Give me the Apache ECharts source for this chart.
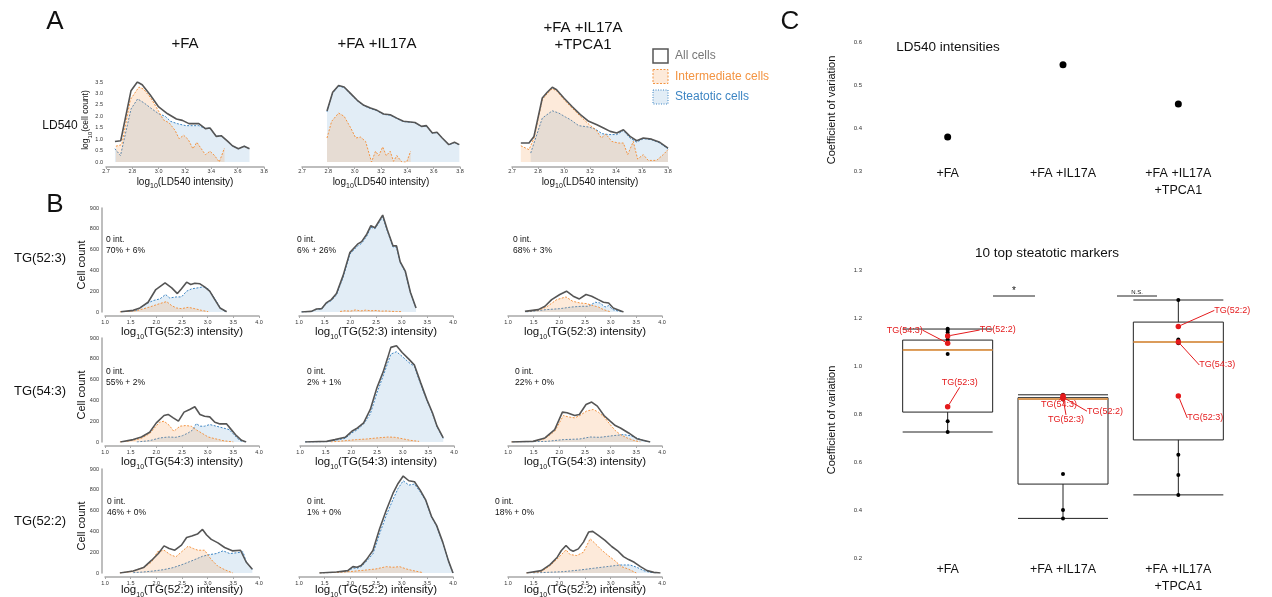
<!DOCTYPE html>
<html>
<head>
<meta charset="utf-8">
<script src="https://cdn.jsdelivr.net/npm/echarts@6/dist/echarts.min.js"></script>
<style>
  html, body { margin: 0; padding: 0; background: #fff; }
  #chart { width: 1272px; height: 597px; }
</style>
</head>
<body>
<div id="chart"></div>
<script>
const FONT = '"Liberation Sans", Arial, sans-serif'
const C_ALL = '#555555'
const C_INT = '#f39442'
const C_STE = '#3d85c3'
const F_INT = 'rgba(245,150,70,0.2)'
const F_STE = 'rgba(110,165,210,0.2)'
const C_RED = '#e41a1c'

// ---- panel A : log10(cell count) vs log10(LD540 intensity)
const A_FA_all = [[2.668,0.90],[2.712,0.93],[2.79,3.12],[2.838,3.50],[2.875,3.38],[2.935,2.94],[3.0,2.41],[3.068,2.11],[3.135,1.88],[3.18,1.82],[3.23,1.68],[3.305,1.68],[3.355,1.46],[3.39,1.49],[3.438,1.12],[3.475,1.15],[3.525,0.90],[3.56,0.71],[3.605,0.58],[3.65,0.69],[3.69,0.58]]
const A_FA_int = [[2.675,0.69],[2.72,0.76],[2.785,2.73],[2.85,3.28],[2.885,3.19],[2.94,2.80],[3.0,2.22],[3.035,1.85],[3.08,1.71],[3.125,1.38],[3.155,1.02],[3.19,1.17],[3.225,0.98],[3.26,0.58],[3.29,0.86],[3.32,0.61],[3.355,0.32],[3.39,0.47],[3.425,0.28],[3.46,0.0],[3.5,0.61]]
const A_FA_ste = [[2.668,0.58],[2.71,0.28],[2.79,2.32],[2.84,2.76],[2.89,2.58],[2.94,2.36],[3.0,2.11],[3.05,2.00],[3.09,1.78],[3.14,1.68],[3.205,1.59],[3.305,1.59],[3.355,1.46],[3.39,1.49],[3.438,1.12],[3.475,1.15],[3.525,0.90],[3.56,0.71],[3.605,0.58],[3.65,0.69],[3.69,0.58]]

const A_IL_all = [[2.79,2.23],[2.833,3.05],[2.878,3.35],[2.92,3.28],[2.97,2.99],[3.02,2.70],[3.07,2.48],[3.12,2.36],[3.17,2.26],[3.22,2.10],[3.27,2.07],[3.32,1.92],[3.37,1.78],[3.458,1.73],[3.508,1.56],[3.545,1.59],[3.59,1.27],[3.625,1.30],[3.665,1.05],[3.715,0.76],[3.758,0.86],[3.795,0.76]]
const A_IL_int = [[2.79,1.05],[2.825,1.78],[2.878,2.14],[2.92,2.0],[2.97,1.49],[3.008,1.05],[3.045,1.09],[3.083,0.90],[3.128,0.0],[3.158,0.47],[3.183,0.28],[3.213,0.66],[3.24,0.28],[3.27,0.47],[3.295,0.03],[3.32,0.28],[3.358,0.0],[3.395,0.0],[3.425,0.47]]
const A_IL_ste = [[2.79,2.20],[2.833,3.02],[2.878,3.32],[2.92,3.26],[2.97,2.97],[3.02,2.68],[3.07,2.46],[3.12,2.34],[3.17,2.24],[3.22,2.08],[3.27,2.05],[3.32,1.90],[3.37,1.77],[3.458,1.72],[3.508,1.55],[3.545,1.58],[3.59,1.26],[3.625,1.29],[3.665,1.04],[3.715,0.75],[3.758,0.85],[3.795,0.75]]

const A_TP_all = [[2.668,0.83],[2.731,0.83],[2.769,1.12],[2.833,2.80],[2.871,3.05],[2.91,3.27],[2.943,3.16],[2.999,2.80],[3.062,2.43],[3.126,2.07],[3.19,1.78],[3.253,1.63],[3.304,1.49],[3.355,1.34],[3.406,1.27],[3.457,1.41],[3.508,1.12],[3.559,0.93],[3.61,1.05],[3.673,1.0],[3.737,0.86],[3.8,0.61]]
const A_TP_int = [[2.668,0.71],[2.731,0.54],[2.769,1.05],[2.833,2.73],[2.871,2.99],[2.91,3.21],[2.948,3.09],[2.999,2.73],[3.062,2.36],[3.126,2.0],[3.195,1.63],[3.246,1.41],[3.287,1.05],[3.322,1.22],[3.368,0.90],[3.419,0.83],[3.457,0.83],[3.49,0.32],[3.533,0.90],[3.566,0.13],[3.61,0.32],[3.648,0.07],[3.712,0.07],[3.763,0.32],[3.8,0.54]]
const A_TP_ste = [[2.744,0.39],[2.782,1.05],[2.833,1.92],[2.91,2.24],[2.96,2.14],[3.011,1.97],[3.05,1.85],[3.113,1.59],[3.19,1.53],[3.241,1.44],[3.292,1.24],[3.343,1.20],[3.406,1.20],[3.457,1.38],[3.508,1.05],[3.559,0.87],[3.61,1.02],[3.673,0.98],[3.737,0.83],[3.8,0.57]]

// ---- panel B : cell count vs log10(TG intensity), rows TG(52:3), TG(54:3), TG(52:2)
const B523_FA_all = [[1.305,3],[1.55,16],[1.68,39],[1.84,94],[1.99,216],[2.17,281],[2.30,232],[2.41,177],[2.49,223],[2.59,287],[2.67,265],[2.75,277],[2.85,271],[2.94,242],[3.04,200],[3.14,119],[3.24,39],[3.37,3]]
const B523_FA_int = [[1.29,0],[1.62,13],[1.87,48],[2.07,81],[2.2,100],[2.30,61],[2.39,39],[2.49,32],[2.62,45],[2.75,32],[2.88,16],[3.01,3]]
const B523_FA_ste = [[1.32,0],[1.62,16],[1.81,81],[1.94,110],[2.07,126],[2.18,168],[2.26,135],[2.39,145],[2.49,145],[2.59,200],[2.69,223],[2.81,232],[2.91,242],[3.01,223],[3.11,152],[3.24,45],[3.33,6]]

const B523_IL_all = [[1.05,0],[1.24,6],[1.34,29],[1.44,32],[1.53,87],[1.63,119],[1.73,177],[1.86,352],[1.99,571],[2.14,652],[2.22,677],[2.32,748],[2.40,830],[2.48,810],[2.63,932],[2.72,790],[2.83,636],[2.9,636],[2.97,484],[3.07,394],[3.17,190],[3.28,39]]
const B523_IL_int = [[1.8,5],[1.9,12],[2.0,8],[2.1,20],[2.2,10],[2.3,18],[2.4,12],[2.5,15],[2.6,8],[2.7,10],[2.8,6],[2.9,5],[3.0,3]]
const B523_IL_ste = [[1.05,0],[1.24,5],[1.34,25],[1.44,28],[1.53,80],[1.63,110],[1.73,165],[1.86,335],[1.99,555],[2.14,635],[2.22,660],[2.32,730],[2.40,815],[2.48,800],[2.63,915],[2.72,780],[2.83,625],[2.9,625],[2.97,475],[3.07,385],[3.17,185],[3.28,35]]

const B523_TP_all = [[1.33,6],[1.59,23],[1.72,55],[1.85,119],[2.01,168],[2.14,200],[2.27,152],[2.39,126],[2.52,168],[2.63,152],[2.76,119],[2.86,94],[2.96,87],[3.05,39],[3.25,0]]
const B523_TP_int = [[1.36,6],[1.62,23],[1.75,48],[1.95,119],[2.13,145],[2.26,103],[2.4,87],[2.53,81],[2.66,61],[2.76,48],[2.86,23],[2.99,3]]
const B523_TP_ste = [[1.36,0],[1.75,23],[2.01,32],[2.24,48],[2.43,55],[2.57,55],[2.70,94],[2.79,87],[2.89,48],[2.96,61],[3.04,23],[3.22,0]]

const B543_FA_all = [[1.3,0],[1.55,23],[1.71,48],[1.87,94],[2.0,184],[2.15,255],[2.23,265],[2.33,232],[2.43,200],[2.54,287],[2.65,313],[2.75,339],[2.85,265],[2.94,248],[3.04,242],[3.14,190],[3.24,174],[3.37,174],[3.46,119],[3.56,61],[3.66,16],[3.75,0]]
const B543_FA_int = [[1.29,0],[1.55,16],[1.71,35],[1.87,81],[2.06,190],[2.15,200],[2.25,161],[2.34,103],[2.46,152],[2.57,158],[2.68,152],[2.77,119],[2.88,87],[3.01,48],[3.14,32],[3.3,13],[3.5,0]]
const B543_FA_ste = [[1.62,0],[1.87,13],[2.07,39],[2.23,48],[2.38,45],[2.51,61],[2.62,87],[2.7,113],[2.78,177],[2.85,152],[2.94,152],[3.04,168],[3.17,152],[3.3,135],[3.42,119],[3.53,61],[3.62,16],[3.72,0]]

const B543_IL_all = [[1.1,0],[1.52,6],[1.68,23],[1.88,45],[2.01,103],[2.12,135],[2.24,184],[2.37,313],[2.5,523],[2.62,674],[2.7,797],[2.77,910],[2.88,926],[2.99,861],[3.12,797],[3.23,739],[3.35,571],[3.47,410],[3.58,281],[3.67,152],[3.79,39]]
const B543_IL_int = [[1.6,0],[1.88,13],[2.1,23],[2.3,29],[2.5,39],[2.72,48],[2.85,45],[2.99,32],[3.15,16],[3.32,6]]
const B543_IL_ste = [[1.1,0],[1.52,3],[1.68,16],[1.88,35],[2.01,87],[2.12,119],[2.24,174],[2.37,271],[2.5,474],[2.62,635],[2.7,748],[2.77,845],[2.88,868],[2.99,823],[3.12,765],[3.23,726],[3.35,555],[3.47,403],[3.58,274],[3.67,145],[3.79,35]]

const B543_TP_all = [[1.07,0],[1.49,6],[1.72,39],[1.91,119],[2.06,287],[2.15,281],[2.3,255],[2.39,265],[2.52,361],[2.63,384],[2.74,345],[2.87,255],[2.99,200],[3.09,158],[3.19,135],[3.35,87],[3.51,32],[3.77,0]]
const B543_TP_int = [[1.07,0],[1.49,6],[1.72,32],[1.91,103],[2.08,255],[2.17,242],[2.3,232],[2.4,255],[2.53,297],[2.66,313],[2.76,287],[2.87,242],[2.99,168],[3.09,110],[3.19,71],[3.32,39],[3.45,16],[3.58,0]]
const B543_TP_ste = [[1.1,0],[1.75,6],[2.08,23],[2.4,29],[2.6,48],[2.79,45],[3.05,61],[3.25,71],[3.38,61],[3.51,39],[3.64,13],[3.77,0]]

const B522_FA_all = [[1.29,0],[1.55,19],[1.75,52],[1.91,123],[2.04,187],[2.15,261],[2.25,235],[2.36,219],[2.49,268],[2.59,342],[2.69,355],[2.8,374],[2.9,419],[2.98,365],[3.07,323],[3.2,290],[3.33,245],[3.48,213],[3.64,219],[3.75,106],[3.87,35]]
const B522_FA_int = [[1.29,0],[1.55,19],[1.75,52],[1.91,106],[2.02,203],[2.15,219],[2.27,177],[2.38,155],[2.49,203],[2.62,258],[2.72,235],[2.81,219],[2.94,219],[3.07,129],[3.2,65],[3.33,32],[3.49,0]]
const B522_FA_ste = [[1.55,3],[1.75,10],[1.94,19],[2.14,32],[2.33,52],[2.52,84],[2.72,123],[2.9,161],[3.04,177],[3.17,187],[3.3,213],[3.43,187],[3.56,194],[3.69,203],[3.75,106],[3.87,35]]

const B522_IL_all = [[1.4,0],[1.73,10],[1.95,23],[2.05,61],[2.13,55],[2.21,71],[2.31,126],[2.44,216],[2.57,426],[2.7,603],[2.83,765],[2.93,861],[3.03,932],[3.14,887],[3.25,877],[3.36,797],[3.47,700],[3.58,545],[3.68,458],[3.8,297],[3.91,119],[4.0,0]]
const B522_IL_int = [[1.4,0],[1.73,6],[2.05,16],[2.31,29],[2.5,39],[2.7,61],[2.83,55],[2.96,61],[3.09,39],[3.22,23],[3.42,3]]
const B522_IL_ste = [[1.4,0],[1.73,6],[1.95,16],[2.05,48],[2.13,45],[2.21,61],[2.31,110],[2.44,184],[2.57,377],[2.7,555],[2.83,706],[2.93,813],[3.03,887],[3.14,845],[3.25,855],[3.36,781],[3.47,694],[3.58,539],[3.68,452],[3.8,290],[3.91,119],[4.0,0]]

const B522_TP_all = [[1.36,0],[1.65,23],[1.82,81],[1.96,152],[2.04,216],[2.13,265],[2.21,223],[2.27,210],[2.37,232],[2.47,297],[2.57,394],[2.65,400],[2.76,361],[2.89,313],[3.02,255],[3.13,216],[3.25,158],[3.35,129],[3.46,103],[3.58,61],[3.71,23],[3.84,6],[3.97,0]]
const B522_TP_int = [[1.36,0],[1.65,13],[1.82,71],[1.96,135],[2.13,223],[2.21,177],[2.34,168],[2.47,200],[2.6,329],[2.69,287],[2.82,223],[2.95,168],[3.08,119],[3.21,61],[3.34,39],[3.5,0]]
const B522_TP_ste = [[1.49,0],[1.75,6],[2.08,13],[2.4,29],[2.66,45],[2.92,61],[3.18,77],[3.38,77],[3.51,55],[3.64,23],[3.77,6],[3.9,0]]

// percentages of intermediate + steatotic cells, row by row
const intPct = [70, 6, 68, 55, 2, 22, 46, 1, 18]
const stePct = [6, 26, 3, 2, 1, 0, 0, 0, 0]
const markers = ['TG(52:3)', 'TG(54:3)', 'TG(52:2)']

// ---- panel C
const conditions = ['+FA', '+FA +IL17A', '+FA +IL17A\n+TPCA1']
const ldCV = [0.379, 0.547, 0.456]
// [min, Q1, median, Q3, max]
const cvBoxes = [
  [0.725, 0.808, 1.067, 1.108, 1.154],
  [0.365, 0.508, 0.862, 0.868, 0.880],
  [0.463, 0.692, 1.100, 1.183, 1.275]
]
const cvBlack = [
  [1.155, 1.15, 1.14, 1.11, 1.05, 0.77, 0.725],
  [0.88, 0.878, 0.872, 0.86, 0.55, 0.40, 0.365],
  [1.275, 1.11, 1.105, 1.095, 0.63, 0.546, 0.463]
]
const redNames = ['TG(54:3)', 'TG(52:2)', 'TG(52:3)']
const cvRed = [
  [1.095, 1.125, 0.83],
  [0.875, 0.870, 0.865],
  [1.100, 1.165, 0.875]
]
// label offsets (px) for the red annotations
const redOffsets = [
  [[-43, -13], [50, -6], [12, -24]],
  [[-4, 9], [42, 14], [3, 21]],
  [[39, 23], [54, -16], [27, 22]]
]

const grids = []
const xAxes = []
const yAxes = []
const series = []

function histPanel(left, top, width, height, all, inter, ste, kind, showY) {
  const i = grids.length
  grids.push({ left, top, width, height })
  const isA = kind === 'A'
  xAxes.push({
    type: 'value', gridIndex: i,
    min: isA ? 2.6 : 1.0, max: isA ? 3.8 : 4.0, interval: isA ? 0.2 : 0.5,
    offset: isA ? 5 : 4,
    axisLine: { show: true, onZero: false, lineStyle: { color: '#a8a8a8', width: 1.5 } },
    axisTick: { show: true, length: 2, lineStyle: { color: '#a8a8a8' } },
    axisLabel: {
      fontSize: 5.5, color: '#333', margin: isA ? 1 : 3,
      formatter: v => (isA && Math.abs(v - 2.6) < 1e-6) ? '2.7' : v.toFixed(1)
    },
    splitLine: { show: false }
  })
  yAxes.push({
    type: 'value', gridIndex: i, show: showY,
    min: 0, max: isA ? 3.5 : 1000, interval: isA ? 0.5 : 200,
    offset: isA ? 0 : 3,
    axisLine: { show: !isA, lineStyle: { color: '#a8a8a8', width: 1.5 } },
    axisTick: { show: false },
    axisLabel: {
      fontSize: 5.5, color: '#333', margin: 3,
      formatter: v => isA ? v.toFixed(1) : (v === 1000 ? '900' : String(v))
    },
    splitLine: { show: false }
  })
  const mk = (d, color, fill, dashed, z) => ({
    type: 'line', xAxisIndex: i, yAxisIndex: i, data: d, symbol: 'none', z,
    lineStyle: { color, width: dashed ? 1 : 1.6, type: dashed ? [2, 1.5] : 'solid' },
    areaStyle: fill ? { color: fill, opacity: 1 } : undefined,
    silent: true
  })
  series.push(mk(ste, C_STE, F_STE, true, 2))
  series.push(mk(inter, C_INT, F_INT, true, 3))
  series.push(mk(all, C_ALL, null, false, 4))
}

// panel A
histPanel(106, 82, 158, 80, A_FA_all, A_FA_int, A_FA_ste, 'A', true)
histPanel(302, 82, 158, 80, A_IL_all, A_IL_int, A_IL_ste, 'A', false)
histPanel(512, 82, 156, 80, A_TP_all, A_TP_int, A_TP_ste, 'A', false)

// panel B
const rowTops = [208, 338, 469]
const colLefts = [[105, 299, 508], [105, 300, 508], [105, 299, 508]]
const bData = [
  [[B523_FA_all, B523_FA_int, B523_FA_ste], [B523_IL_all, B523_IL_int, B523_IL_ste], [B523_TP_all, B523_TP_int, B523_TP_ste]],
  [[B543_FA_all, B543_FA_int, B543_FA_ste], [B543_IL_all, B543_IL_int, B543_IL_ste], [B543_TP_all, B543_TP_int, B543_TP_ste]],
  [[B522_FA_all, B522_FA_int, B522_FA_ste], [B522_IL_all, B522_IL_int, B522_IL_ste], [B522_TP_all, B522_TP_int, B522_TP_ste]]
]
bData.forEach((row, r) => {
  row.forEach((d, c) => {
    histPanel(colLefts[r][c], rowTops[r], 154, 104, d[0], d[1], d[2], 'B', c === 0)
  })
})

// panel C top: LD540 intensities
const gTop = grids.length
grids.push({ left: 890, top: 42, width: 346, height: 129 })
xAxes.push({
  type: 'category', gridIndex: gTop, data: conditions, offset: -8,
  axisLine: { show: false }, axisTick: { show: false },
  axisLabel: { fontSize: 12.5, color: '#111', margin: 2, lineHeight: 17 }
})
yAxes.push({
  type: 'value', gridIndex: gTop, min: 0.3, max: 0.6, interval: 0.1,
  axisLine: { show: false }, axisTick: { show: false }, splitLine: { show: false },
  axisLabel: { fontSize: 6, color: '#333', margin: 28, formatter: v => v.toFixed(1) }
})
series.push({
  type: 'scatter', xAxisIndex: gTop, yAxisIndex: gTop, symbolSize: 7,
  itemStyle: { color: '#000', opacity: 1 }, data: ldCV.map((v, i) => [i, v]), silent: true
})

// panel C bottom: 10 top steatotic markers
const gBot = grids.length
grids.push({ left: 890, top: 270, width: 346, height: 288 })
xAxes.push({
  type: 'category', gridIndex: gBot, data: conditions,
  axisLine: { show: false }, axisTick: { show: false },
  axisLabel: { fontSize: 12.5, color: '#111', margin: 3, lineHeight: 17 }
})
yAxes.push({
  type: 'value', gridIndex: gBot, min: 0.2, max: 1.4, interval: 0.2,
  axisLine: { show: false }, axisTick: { show: false }, splitLine: { show: false },
  axisLabel: { fontSize: 6, color: '#333', margin: 28, formatter: v => (Math.abs(v - 1.4) < 1e-6 ? '1.3' : v.toFixed(1)) }
})
series.push({
  type: 'boxplot', xAxisIndex: gBot, yAxisIndex: gBot, data: cvBoxes, boxWidth: [90, 90],
  itemStyle: { color: 'rgba(0,0,0,0)', borderColor: '#222', borderWidth: 1 }, silent: true
})
series.push({
  type: 'custom', xAxisIndex: gBot, yAxisIndex: gBot, z: 5, silent: true,
  data: cvBoxes.map((b, i) => [i, b[2]]),
  renderItem: (params, api) => {
    const p = api.coord([api.value(0), api.value(1)])
    return { type: 'line', shape: { x1: p[0] - 45, y1: p[1], x2: p[0] + 45, y2: p[1] }, style: { stroke: '#f5a04a', lineWidth: 1.5 } }
  }
})
const blackPts = []
cvBlack.forEach((vals, i) => vals.forEach(v => blackPts.push([i, v])))
series.push({
  type: 'scatter', xAxisIndex: gBot, yAxisIndex: gBot, symbolSize: 4, z: 6,
  itemStyle: { color: '#000', opacity: 1 }, data: blackPts, silent: true
})
const redPts = []
const redOff = []
cvRed.forEach((vals, i) => vals.forEach((v, k) => {
  redPts.push({ value: [i, v], name: redNames[k] })
  redOff.push(redOffsets[i][k])
}))
series.push({
  type: 'scatter', xAxisIndex: gBot, yAxisIndex: gBot, symbolSize: 5.5, z: 7,
  itemStyle: { color: C_RED, opacity: 1 }, data: redPts, silent: true,
  label: { show: true, position: 'inside', formatter: '{b}', color: C_RED, fontSize: 9 },
  labelLine: { show: true, lineStyle: { color: C_RED, width: 1, opacity: 1 } },
  labelLayout: p => ({ dx: redOff[p.dataIndex][0], dy: redOff[p.dataIndex][1] })
})

// ---- text and legend
function txt(x, y, text, size, o = {}) {
  return {
    type: 'text', x, y, rotation: o.rot || 0, silent: true, z: 10,
    style: {
      text, fontSize: size, fontFamily: FONT, fill: o.color || '#111',
      align: o.align || 'center', verticalAlign: o.va || 'middle',
      lineHeight: o.lh, rich: o.rich
    }
  }
}
const subRich = size => ({
  n: { fontSize: size, lineHeight: size + 1 },
  s: { fontSize: Math.round(size * 0.65), lineHeight: size + 6, verticalAlign: 'bottom' }
})
const logName = inner => '{n|log}{s|10}{n|(' + inner + ')}'

const graphics = [
  txt(55, 22, 'A', 26), txt(55, 205, 'B', 26), txt(790, 22, 'C', 26),
  txt(185, 44, '+FA', 15), txt(377, 44, '+FA +IL17A', 15), txt(583, 36, '+FA +IL17A\n+TPCA1', 15, { lh: 17 }),
  txt(60, 126, 'LD540', 12),
  txt(86, 120, logName('cell count'), 8.5, { rot: Math.PI / 2, rich: subRich(8.5) }),
  txt(948, 47, 'LD540 intensities', 13.5),
  txt(1047, 253, '10 top steatotic markers', 13.5),
  txt(832, 110, 'Coefficient of variation', 11, { rot: Math.PI / 2 }),
  txt(832, 420, 'Coefficient of variation', 11, { rot: Math.PI / 2 }),
  txt(1014, 291, '*', 10),
  txt(1137, 292, 'N.S.', 6)
]
// significance bars
graphics.push({ type: 'line', silent: true, shape: { x1: 993, y1: 296, x2: 1035, y2: 296 }, style: { stroke: '#222', lineWidth: 1 } })
graphics.push({ type: 'line', silent: true, shape: { x1: 1117, y1: 296, x2: 1157, y2: 296 }, style: { stroke: '#222', lineWidth: 1 } })

// panel A axis names
;[185, 381, 590].forEach(x => graphics.push(txt(x, 182, logName('LD540 intensity'), 10, { rich: subRich(10) })))

// panel B names, row labels, annotations
const annotPos = [[[106, 240], [297, 240], [513, 240]], [[106, 372], [307, 372], [515, 372]], [[107, 502], [307, 502], [495, 502]]]
const xNameY = [332, 462, 590]
const xNameX = [182, 376, 585]
markers.forEach((m, r) => {
  graphics.push(txt(40, [258, 391, 521][r], m, 13))
  graphics.push(txt(82, rowTops[r] + 57, 'Cell count', 11, { rot: Math.PI / 2 }))
  xNameX.forEach(x => graphics.push(txt(x, xNameY[r], logName(m + ' intensity'), 11.5, { rich: subRich(11.5) })))
  annotPos[r].forEach((p, c) => {
    const k = r * 3 + c
    graphics.push(txt(p[0], p[1] + 5, '{k|0 int.}\n{o|' + intPct[k] + '%}{k| + }{b|' + stePct[k] + '%}', 8.5, {
      align: 'left',
      rich: {
        k: { fontSize: 8.5, color: '#111', lineHeight: 11 },
        o: { fontSize: 8.5, color: C_INT, lineHeight: 11 },
        b: { fontSize: 8.5, color: C_STE, lineHeight: 11 }
      }
    }))
  })
})

// legend
const legendItems = [
  { name: 'All cells', stroke: C_ALL, fill: '#fff', dash: null, color: '#777' },
  { name: 'Intermediate cells', stroke: C_INT, fill: F_INT, dash: [2, 1.5], color: C_INT },
  { name: 'Steatotic cells', stroke: C_STE, fill: F_STE, dash: [1, 1.5], color: C_STE }
]
legendItems.forEach((it, i) => {
  const y = 56 + i * 20.5
  graphics.push({
    type: 'rect', silent: true, shape: { x: 653, y: y - 7, width: 15, height: 14 },
    style: { fill: it.fill, stroke: it.stroke, lineWidth: it.dash ? 1 : 1.5, lineDash: it.dash }
  })
  graphics.push(txt(675, y, it.name, 12, { align: 'left', color: it.color }))
})

const chart = echarts.init(document.getElementById('chart'))
chart.setOption({
  animation: false,
  textStyle: { fontFamily: FONT },
  grid: grids,
  xAxis: xAxes,
  yAxis: yAxes,
  series,
  graphic: graphics
})
</script>
</body>
</html>
